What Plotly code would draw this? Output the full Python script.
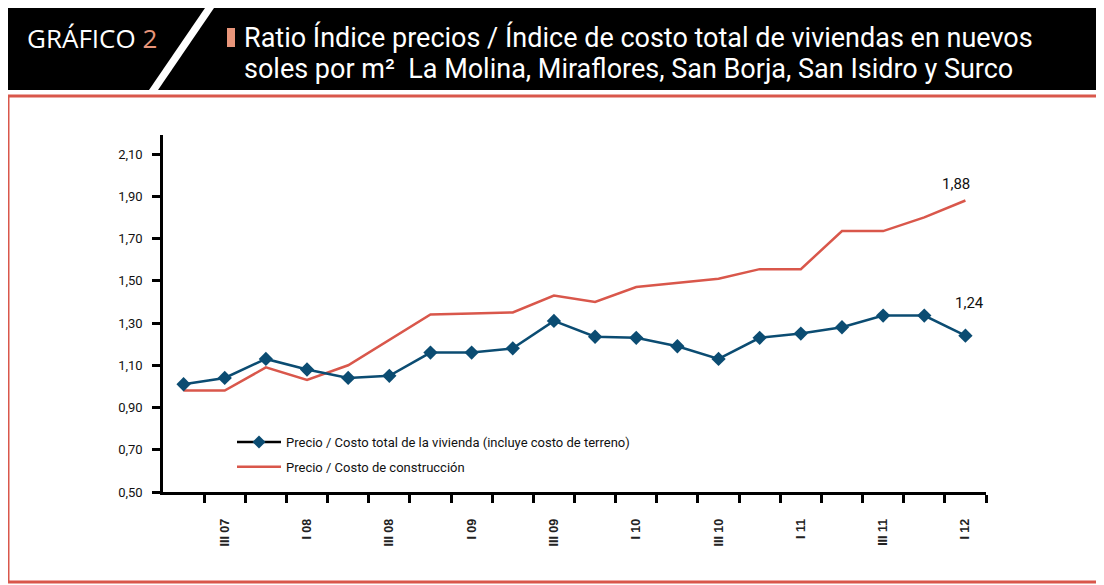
import plotly.graph_objects as go

quarters = ["II 07", "III 07", "IV 07", "I 08", "II 08", "III 08", "IV 08", "I 09",
            "II 09", "III 09", "IV 09", "I 10", "II 10", "III 10", "IV 10", "I 11",
            "II 11", "III 11", "IV 11", "I 12"]
ratio_total = [1.01, 1.04, 1.13, 1.08, 1.04, 1.05, 1.16, 1.16, 1.18, 1.31,
               1.235, 1.23, 1.19, 1.13, 1.23, 1.25, 1.28, 1.335, 1.335, 1.24]
ratio_construccion = [0.98, 0.98, 1.09, 1.03, 1.10, 1.22, 1.34, 1.345, 1.35, 1.43,
                      1.40, 1.47, 1.49, 1.51, 1.555, 1.555, 1.735, 1.735, 1.80, 1.88]
yticks = [0.5, 0.7, 0.9, 1.1, 1.3, 1.5, 1.7, 1.9, 2.1]
name_total = "Precio / Costo total de la vivienda (incluye costo de terreno)"
name_constr = "Precio / Costo de construcción"

BLUE = "#0b4c72"
RED = "#d9574b"
SALMON = "#e8957a"

# page has an 8px body margin; work in reference page coordinates
O = 8
W, H = 1104 - O, 585 - O
L, R, T, B = 163 - O, 118, 135 - O, 93
PW, PH = W - L - R, H - T - B


def px(x):
    return (x - O - L) / PW


def py(y):
    return (H - B - (y - O)) / PH


xs = list(range(len(quarters)))

fig = go.Figure()
fig.add_trace(go.Scatter(x=xs, y=ratio_construccion, mode="lines",
                         line=dict(color=RED, width=2.5), showlegend=False))
fig.add_trace(go.Scatter(x=xs, y=ratio_total, mode="lines+markers",
                         line=dict(color=BLUE, width=2.5),
                         marker=dict(symbol="diamond", size=11, color=BLUE),
                         showlegend=False))
# legend entries
fig.add_trace(go.Scatter(x=[None], y=[None], mode="lines+markers", name=name_total,
                         legendgroup="a",
                         line=dict(color="black", width=2.5),
                         marker=dict(symbol="diamond", size=10, color=BLUE)))
fig.add_trace(go.Scatter(x=[None], y=[None], mode="lines", name=name_constr,
                         legendgroup="b",
                         line=dict(color=RED, width=2.5)))

label_idx = xs[1::2]
fig.update_xaxes(range=[-0.5, len(quarters) - 0.5],
                 tickmode="array", tickvals=label_idx,
                 ticktext=[quarters[i] for i in label_idx],
                 ticks="", tickangle=-90, ticklabelstandoff=19,
                 tickfont=dict(family="Liberation Sans, Arial", size=12.5, color="#222",
                               weight="bold"),
                 minor=dict(tickmode="array", tickvals=[i + 0.5 for i in xs],
                            ticks="outside", ticklen=8, tickwidth=2.5, tickcolor="black"),
                 showline=True, linecolor="black", linewidth=2.5,
                 showgrid=False, zeroline=False)
fig.update_yaxes(range=[0.5, 2.19], tickmode="array", tickvals=yticks,
                 tickformat=".2f", ticks="outside", ticklen=8, tickwidth=2.5,
                 tickcolor="black", ticklabelstandoff=7,
                 tickfont=dict(family="Roboto", size=13, color="#111"),
                 showline=True, linecolor="black", linewidth=2.5,
                 showgrid=False, zeroline=False)

shapes = [
    dict(type="rect", xref="paper", yref="paper", x0=px(6), x1=px(1097), y0=py(8), y1=py(90),
         fillcolor="black", line=dict(width=0), layer="below"),
    dict(type="path", xref="paper", yref="paper",
         path=f"M {px(205)} {py(8)} L {px(214)} {py(8)} L {px(158)} {py(90)} L {px(149)} {py(90)} Z",
         fillcolor="white", line=dict(width=0)),
    dict(type="rect", xref="paper", yref="paper", x0=px(227), x1=px(235), y0=py(28), y1=py(47),
         fillcolor=SALMON, line=dict(width=0)),
    dict(type="rect", xref="paper", yref="paper", x0=px(8), x1=px(1101), y0=py(96), y1=py(582),
         fillcolor="rgba(0,0,0,0)", line=dict(color=RED, width=3), layer="below"),
]

annotations = [
    dict(xref="paper", yref="paper", x=px(25), y=py(38), xanchor="left", yanchor="middle",
         text=f"GRÁFICO <span style='color:{SALMON}'>2</span>", showarrow=False,
         font=dict(family="Open Sans", size=26, color="white", weight=500)),
    dict(xref="paper", yref="paper", x=px(242), y=py(37), xanchor="left", yanchor="middle",
         text="Ratio Índice precios / Índice de costo total de viviendas en nuevos", showarrow=False,
         font=dict(family="Roboto", size=27, color="white")),
    dict(xref="paper", yref="paper", x=px(242), y=py(69), xanchor="left", yanchor="middle",
         text="soles por m²  La Molina, Miraflores, San Borja, San Isidro y Surco",
         showarrow=False, font=dict(family="Roboto", size=27, color="white")),
    dict(x=xs[-1], y=ratio_construccion[-1], text="1,88", showarrow=False,
         xshift=-9, yshift=16, font=dict(family="Roboto", size=15, color="#111")),
    dict(x=xs[-1], y=ratio_total[-1], text="1,24", showarrow=False,
         xshift=4, yshift=33, font=dict(family="Roboto", size=15, color="#111")),
]

fig.update_layout(
    width=W, height=H, margin=dict(l=L, r=R, t=T, b=B),
    paper_bgcolor="white", plot_bgcolor="white",
    separators=",.",
    shapes=shapes, annotations=annotations,
    legend=dict(x=px(232), y=py(427), xanchor="left", yanchor="top",
                bgcolor="rgba(0,0,0,0)", tracegroupgap=5, itemwidth=44,
                font=dict(family="Roboto", size=13, color="#111")),
)

fig.write_html("out.html")
